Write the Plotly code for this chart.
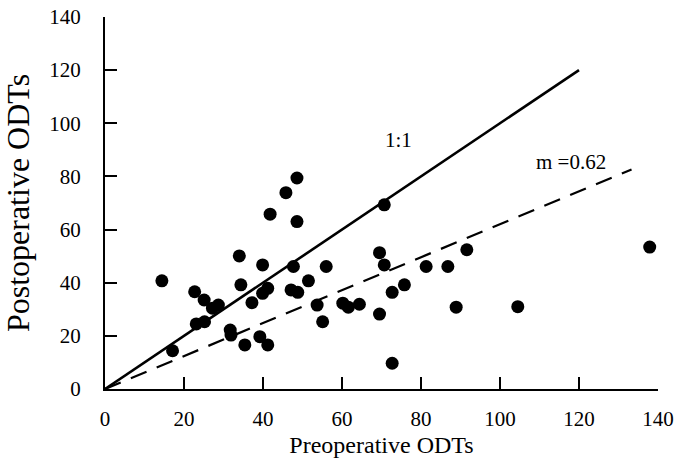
import plotly.graph_objects as go

# Scatter data
pre_odt = [14.4, 17.1, 22.7, 25.1, 27.2, 28.7, 23.1, 25.2, 34.0, 34.4,
           31.7, 31.9, 35.4, 37.2, 39.9, 39.9, 41.2, 39.2, 41.2, 41.8,
           45.8, 48.6, 48.6, 47.7, 47.1, 48.8, 51.5, 56.0, 53.7, 55.1,
           60.2, 61.6, 64.4, 69.5, 69.5, 70.7, 70.7, 72.7, 75.8, 72.7,
           81.3, 86.8, 91.6, 88.9, 104.5, 137.9]
post_odt = [40.7, 14.4, 36.6, 33.5, 30.4, 31.6, 24.5, 25.3, 50.1, 39.2,
            22.2, 20.3, 16.6, 32.5, 46.7, 36.0, 37.9, 19.7, 16.6, 65.8,
            73.9, 79.4, 63.0, 46.1, 37.3, 36.4, 40.7, 46.1, 31.6, 25.3,
            32.3, 30.8, 31.9, 28.2, 51.3, 46.7, 69.3, 36.4, 39.2, 9.7,
            46.1, 46.1, 52.4, 30.8, 31.0, 53.4]

# Reference lines
identity_x = [0, 120]
identity_y = [0, 120]
slope_m = 0.62
fit_x = [0, 133.3]
fit_y = [v * slope_m for v in fit_x]

tick_vals = [0, 20, 40, 60, 80, 100, 120, 140]

FONT = "Liberation Serif, Times New Roman, serif"

fig = go.Figure()
fig.add_trace(go.Scatter(x=identity_x, y=identity_y, mode="lines",
                         line=dict(color="black", width=2.6),
                         showlegend=False, hoverinfo="skip"))
fig.add_trace(go.Scatter(x=fit_x, y=fit_y, mode="lines",
                         line=dict(color="black", width=2.2, dash="17px,11px"),
                         showlegend=False, hoverinfo="skip"))
fig.add_trace(go.Scatter(x=pre_odt, y=post_odt, mode="markers",
                         marker=dict(color="black", size=13,
                                     line=dict(width=0)),
                         showlegend=False))

fig.add_annotation(x=74.3, y=93.8, text="1:1", showarrow=False,
                   font=dict(family=FONT, size=21, color="black"))
fig.add_annotation(x=117.9, y=85.5, text="m =0.62", showarrow=False,
                   font=dict(family=FONT, size=21, color="black"))

axis_common = dict(
    range=[0, 140], tickvals=tick_vals, ticks="inside", ticklen=12,
    tickwidth=2, tickcolor="black", showline=True, linecolor="black",
    linewidth=2, showgrid=False, zeroline=False, automargin=False,
    ticklabeloverflow="allow",
    tickfont=dict(family=FONT, size=21, color="black"),
)

fig.update_layout(
    width=685, height=458,
    margin=dict(l=105, r=27, t=17, b=69),
    paper_bgcolor="white", plot_bgcolor="white",
    font=dict(family=FONT, color="black"),
    xaxis=dict(**axis_common, ticklabelstandoff=10,
               title=dict(text="Preoperative ODTs", standoff=10,
                          font=dict(family=FONT, size=24, color="black"))),
    yaxis=dict(**axis_common, ticklabelstandoff=18,
               title=dict(text="Postoperative ODTs", standoff=15,
                          font=dict(family=FONT, size=32, color="black"))),
)

# remove the browser's default 8px body margin so the figure fills the window
fig.write_html("out.html",
               config={"displayModeBar": False},
               post_script="document.body.style.margin='0';")
